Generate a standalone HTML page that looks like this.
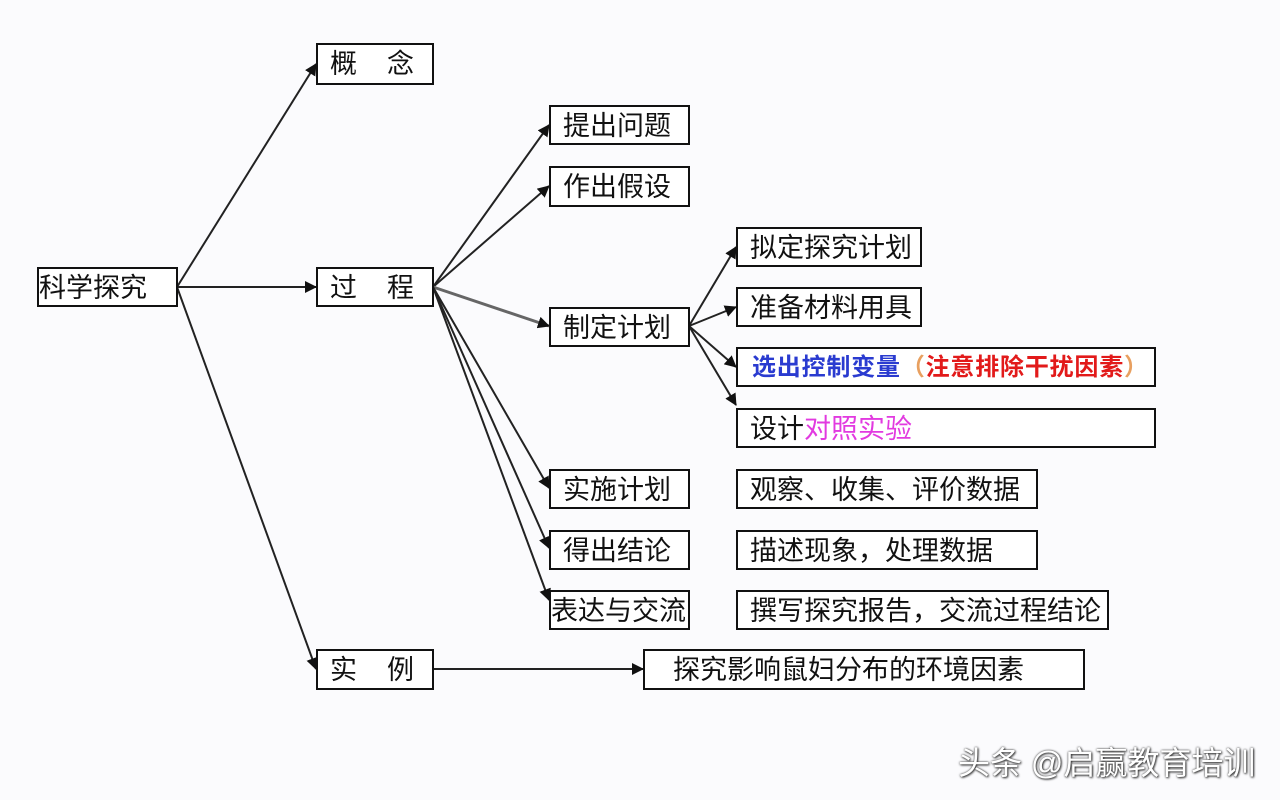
<!DOCTYPE html>
<html><head><meta charset="utf-8"><style>
body{margin:0;width:1280px;height:800px;background:#fbfbfd;position:relative;overflow:hidden;font-family:"Liberation Sans","Noto Sans CJK SC",sans-serif}
.b{position:absolute;border:2px solid #111;background:#fff;box-sizing:border-box;font-size:27px;color:#111;line-height:38px;padding-left:12px;white-space:nowrap}
svg{position:absolute;left:0;top:0}
.wm{position:absolute;left:958px;top:738px;font-size:32px;color:#fff;text-shadow:0 0 2px #333,1px 1px 2px #333;white-space:nowrap}
</style></head><body>
<svg width="1280" height="800">
<defs><marker id="a" markerWidth="12" markerHeight="12" refX="11" refY="6" orient="auto" markerUnits="userSpaceOnUse"><path d="M0,0 L12,6 L0,12 z" fill="#111"/></marker></defs>
<g stroke="#222" stroke-width="2" fill="none" marker-end="url(#a)">
<line x1="177" y1="287" x2="316" y2="64"/>
<line x1="177" y1="287" x2="316" y2="287"/>
<line x1="177" y1="287" x2="316" y2="669"/>
<line x1="433" y1="287" x2="549" y2="125"/>
<line x1="433" y1="287" x2="549" y2="186"/>
<line x1="433" y1="287" x2="549" y2="326" stroke="#666" stroke-width="3"/>
<line x1="433" y1="287" x2="549" y2="488"/>
<line x1="433" y1="287" x2="549" y2="548"/>
<line x1="433" y1="287" x2="549" y2="600"/>
<line x1="689" y1="326" x2="736" y2="247"/>
<line x1="689" y1="326" x2="736" y2="307"/>
<line x1="689" y1="326" x2="736" y2="367"/>
<line x1="689" y1="326" x2="736" y2="405"/>
<line x1="433" y1="669" x2="643" y2="669"/>
</g></svg>
<div class="b" style="left:37px;top:267px;width:141px;height:40px;padding-left:0">科学探究</div>
<div class="b" style="left:316px;top:43px;width:118px;height:42px">概&nbsp;&nbsp;&nbsp;&nbsp;念</div>
<div class="b" style="left:316px;top:267px;width:118px;height:40px">过&nbsp;&nbsp;&nbsp;&nbsp;程</div>
<div class="b" style="left:316px;top:649px;width:118px;height:41px">实&nbsp;&nbsp;&nbsp;&nbsp;例</div>
<div class="b" style="left:549px;top:105px;width:141px;height:40px">提出问题</div>
<div class="b" style="left:549px;top:166px;width:141px;height:41px">作出假设</div>
<div class="b" style="left:549px;top:307px;width:141px;height:40px">制定计划</div>
<div class="b" style="left:549px;top:469px;width:141px;height:40px">实施计划</div>
<div class="b" style="left:549px;top:530px;width:141px;height:40px">得出结论</div>
<div class="b" style="left:549px;top:590px;width:141px;height:40px;padding-left:0">表达与交流</div>
<div class="b" style="left:736px;top:227px;width:186px;height:40px">拟定探究计划</div>
<div class="b" style="left:736px;top:287px;width:186px;height:40px">准备材料用具</div>
<div class="b" style="left:736px;top:347px;width:420px;height:40px;font-size:24px;letter-spacing:0.8px;font-weight:bold;padding-left:14px"><span style="color:#2a3bd0">选出控制变量</span><span style="color:#e8a060">（</span><span style="color:#e21a1a">注意排除干扰因素</span><span style="color:#e8a060">）</span></div>
<div class="b" style="left:736px;top:408px;width:420px;height:40px">设计<span style="color:#e23ae0">对照实验</span></div>
<div class="b" style="left:736px;top:469px;width:302px;height:40px">观察、收集、评价数据</div>
<div class="b" style="left:736px;top:530px;width:302px;height:40px">描述现象，处理数据</div>
<div class="b" style="left:736px;top:590px;width:373px;height:40px">撰写探究报告，交流过程结论</div>
<div class="b" style="left:643px;top:649px;width:442px;height:41px;padding-left:28px">探究影响鼠妇分布的环境因素</div>
<div class="wm">头条 @启赢教育培训</div>
</body></html>
